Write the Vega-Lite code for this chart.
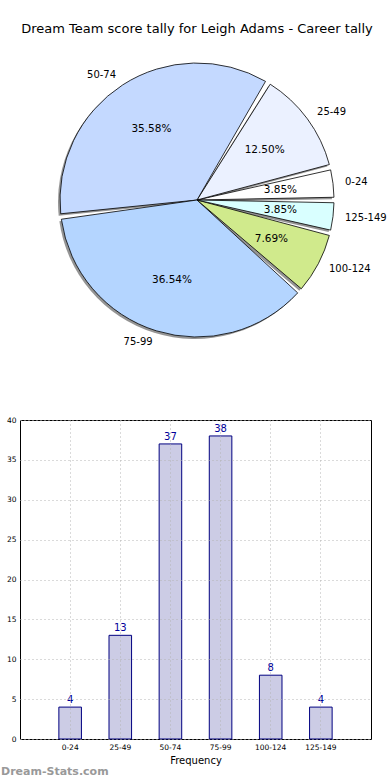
{
  "$schema": "https://vega.github.io/schema/vega-lite/v6.json",
  "padding": {"top": 23, "left": 0, "right": 0, "bottom": 0},
  "background": "white",
  "config": {"font": "DejaVu Sans", "view": {"stroke": null}},
  "datasets": {
    "tally": [
      {"bin": "0-24", "idx": 0, "count": 4, "pct": "3.85%"},
      {"bin": "25-49", "idx": 1, "count": 13, "pct": "12.50%"},
      {"bin": "50-74", "idx": 2, "count": 37, "pct": "35.58%"},
      {"bin": "75-99", "idx": 3, "count": 38, "pct": "36.54%"},
      {"bin": "100-124", "idx": 4, "count": 8, "pct": "7.69%"},
      {"bin": "125-149", "idx": 5, "count": 4, "pct": "3.85%"}
    ]
  },
  "spacing": 58,
  "vconcat": [
    {
      "width": 354,
      "height": 314,
      "title": {"text": "Dream Team score tally for Leigh Adams - Career tally", "fontSize": 13, "fontWeight": "normal", "anchor": "middle", "offset": 7, "color": "black"},
      "data": {"name": "tally"},
      "encoding": {
        "theta": {"field": "count", "type": "quantitative", "stack": true, "scale": {"range": [1.5708, 7.854]}},
        "order": {"field": "idx", "type": "quantitative", "sort": "descending"}
      },
      "layer": [
        {"mark": {"type": "arc", "outerRadius": 137, "padAngle": 0.04, "fill": "#666666", "fillOpacity": 0.7, "xOffset": -2, "yOffset": 2}},
        {"mark": {"type": "arc", "outerRadius": 137, "padAngle": 0.04, "stroke": "black", "strokeWidth": 0.8},
         "encoding": {"color": {"field": "bin", "type": "nominal", "sort": null,
           "scale": {"domain": ["0-24", "25-49", "50-74", "75-99", "100-124", "125-149"], "range": ["#FFFFFF", "#EBF1FF", "#C4D9FF", "#B4D5FF", "#D0EA8C", "#D9FFFF"]}, "legend": null}}},
        {"mark": {"type": "text", "radius": 84, "fontSize": 10.5, "color": "black"},
         "encoding": {"text": {"field": "pct"}}},
        {"mark": {"type": "text", "radius": 149, "fontSize": 10, "color": "black", "align": {"expr": "datum.idx == 2 || datum.idx == 3 ? 'right' : 'left'"}},
         "encoding": {"text": {"field": "bin"}}}
      ]
    },
    {
      "width": 351,
      "height": 319,
      "view": {"stroke": "black", "strokeWidth": 1},
      "title": {"text": "Dream-Stats.com", "orient": "bottom", "anchor": "start", "frame": "bounds", "fontSize": 11, "fontWeight": "bold", "color": "#999999", "offset": 0},
      "data": {"name": "tally"},
      "encoding": {
        "x": {"field": "bin", "type": "nominal", "sort": null,
          "scale": {"paddingInner": 0.55, "paddingOuter": 0.775},
          "axis": {"title": "Frequency", "titleFontSize": 10, "titleFontWeight": "normal", "titlePadding": 5, "labelFontSize": 7.5, "labelAngle": 0, "labelPadding": 4, "tickSize": 0, "domain": false, "grid": true, "bandPosition": 0.5, "gridColor": "#b4b4b4", "gridDash": [1, 3], "gridWidth": 1, "zindex": 1, "labelColor": "black", "titleColor": "black"}},
        "y": {"field": "count", "type": "quantitative",
          "scale": {"domain": [0, 40], "nice": false},
          "axis": {"title": null, "values": [0, 5, 10, 15, 20, 25, 30, 35, 40], "labelFontSize": 7.5, "labelPadding": 4, "tickSize": 0, "domain": false, "grid": true, "gridColor": "#b4b4b4", "gridDash": [1, 3], "gridWidth": 1, "zindex": 1, "minExtent": 19, "maxExtent": 19, "labelColor": "black"}}
      },
      "layer": [
        {"mark": {"type": "bar", "fill": "#CCCCE5", "stroke": "#000080", "strokeWidth": 1}},
        {"mark": {"type": "text", "baseline": "bottom", "dy": -2, "fontSize": 10, "color": "#000099"},
         "encoding": {"text": {"field": "count", "type": "quantitative"}}}
      ]
    }
  ]
}
